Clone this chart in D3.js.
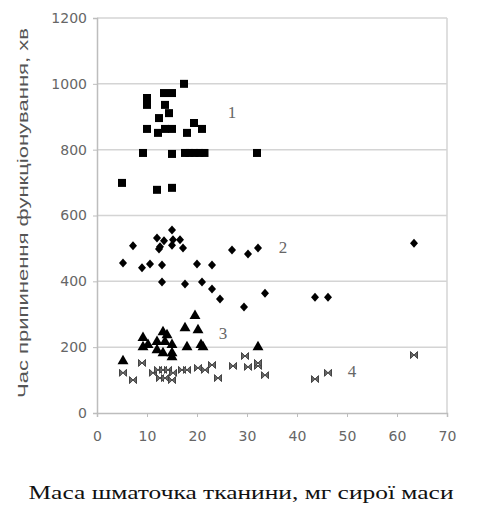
<!DOCTYPE html>
<html>
<head>
<meta charset="utf-8">
<script src="https://cdn.jsdelivr.net/npm/d3@7"></script>
<style>
  body { margin: 0; background: #fff; }
  svg { display: block; }
</style>
</head>
<body>
<div id="chart"></div>
<script>
// series 1: squares
const mass1 = [17.4, 10, 10, 13.4, 15, 13.6, 14.4, 12.4, 10, 12.2, 13.6, 15, 18, 19.4, 21,
               9.2, 15, 17.6, 18.5, 19.5, 20.5, 21.5, 32, 5, 12, 15];
const time1 = [1000, 957, 936, 972, 972, 936, 911, 896, 863, 851, 863, 863, 851, 881, 863,
               790, 787, 790, 790, 790, 790, 790, 790, 699, 678, 684];
// series 2: diamonds
const mass2 = [7.2, 5.2, 9, 10.6, 13, 12, 12.6, 13.4, 15, 15.2, 16.6, 15, 17.2, 12.4,
               13, 17.6, 20, 21, 23, 23, 24.6, 27, 30.2, 32.2, 33.6, 29.4, 63.4, 43.6, 46.2];
const time2 = [508, 456, 441, 453, 450, 532, 505, 523, 556, 526, 526, 510, 501, 498,
               398, 392, 453, 398, 450, 377, 346, 495, 483, 501, 364, 322, 516, 352, 352];
// series 3: triangles
const mass3 = [5.2, 19.6, 17.6, 20.2, 13.2, 14, 9.2, 9.2, 10.2, 12, 12, 13.6, 15, 15, 15,
               13.2, 18, 20.8, 21.2, 32.2];
const time3 = [158, 295, 258, 252, 246, 237, 228, 200, 207, 216, 191, 216, 207, 182, 170,
               182, 200, 207, 200, 200];
// series 4: bowties
const mass4 = [5.2, 7.2, 9, 11.2, 12.2, 13.2, 14.2, 12.6, 13.6, 15, 15.2, 17, 18, 20.2, 21.6,
               23, 24.2, 27.2, 29.6, 30.2, 32.2, 33.6, 32.2, 43.6, 46.2, 63.4];
const time4 = [122, 100, 152, 122, 131, 131, 131, 106, 106, 100, 122, 131, 131, 137, 131,
               146, 106, 143, 173, 140, 143, 115, 152, 103, 122, 176];

const xTicks = [0, 10, 20, 30, 40, 50, 60, 70];
const yTicks = [0, 200, 400, 600, 800, 1000, 1200];
const seriesLabels = ["1", "2", "3", "4"];
const labelPos = [[27, 895], [37.2, 485], [25.2, 226], [51, 108]];

const W = 482, H = 505;
const x = d3.scaleLinear().domain([0, 70]).range([97, 447]);
const y = d3.scaleLinear().domain([0, 1200]).range([413, 18]);

const svg = d3.select("#chart").append("svg")
    .attr("width", W).attr("height", H);

// grid lines
svg.append("g").selectAll("line")
  .data(yTicks.slice(1))
  .enter().append("line")
    .attr("x1", x(0)).attr("x2", x(70))
    .attr("y1", d => y(d)).attr("y2", d => y(d))
    .attr("stroke", "#d4d4d4").attr("stroke-width", 1.5);

// right border
svg.append("line")
  .attr("x1", x(70)).attr("x2", x(70))
  .attr("y1", y(1200)).attr("y2", y(0))
  .attr("stroke", "#d4d4d4").attr("stroke-width", 1.5);

// axes
const yAxis = svg.append("g")
  .attr("transform", "translate(" + x(0) + ",0)")
  .call(d3.axisLeft(y).tickValues(yTicks).tickFormat(d3.format("d")).tickSize(4).tickPadding(6));
const xAxis = svg.append("g")
  .attr("transform", "translate(0," + y(0) + ")")
  .call(d3.axisBottom(x).tickValues(xTicks).tickFormat(d3.format("d")).tickSize(4).tickPadding(14));

[xAxis, yAxis].forEach(a => {
  a.select(".domain").attr("stroke", "#bdbdbd").attr("stroke-width", 1.5);
  a.selectAll(".tick line").attr("stroke", "#bdbdbd");
  a.selectAll(".tick text")
    .attr("fill", "#666")
    .style("font-family", "DejaVu Sans, sans-serif")
    .style("font-size", "14px");
});

// marks
const sq = d3.symbol().type(d3.symbolSquare).size(64);
const dia = "M0,-4.5L4,0L0,4.5L-4,0Z";
const tri = d3.symbol().type(d3.symbolTriangle).size(52);
const bow = "M-3.5,-3.5L3.5,3.5L3.5,-3.5L-3.5,3.5Z";

function plot(xs, ys, path, fill, stroke) {
  svg.append("g").selectAll("path")
    .data(xs.map((v, i) => [v, ys[i]]))
    .enter().append("path")
      .attr("d", path)
      .attr("transform", d => "translate(" + x(d[0]) + "," + y(d[1]) + ")")
      .attr("fill", fill)
      .attr("stroke", stroke)
      .attr("stroke-width", 1);
}
plot(mass1, time1, sq(), "#000", "none");
plot(mass2, time2, dia, "#000", "none");
plot(mass3, time3, tri(), "#000", "none");
plot(mass4, time4, bow, "#666", "#444");

// series labels
svg.append("g").selectAll("text")
  .data(seriesLabels)
  .enter().append("text")
    .attr("x", (d, i) => x(labelPos[i][0]))
    .attr("y", (d, i) => y(labelPos[i][1]))
    .attr("text-anchor", "middle")
    .attr("fill", "#666")
    .style("font-family", "Liberation Serif, Times New Roman, serif")
    .style("font-size", "17px")
    .text(d => d);

// axis titles
svg.append("text")
  .attr("transform", "translate(28,213) rotate(-90)")
  .attr("text-anchor", "middle")
  .attr("fill", "#555")
  .attr("textLength", 370)
  .attr("lengthAdjust", "spacingAndGlyphs")
  .style("font-family", "Liberation Sans, Arial, sans-serif")
  .style("font-size", "14px")
  .text("Час припинення функціонування, хв");

svg.append("text")
  .attr("x", 241).attr("y", 499)
  .attr("text-anchor", "middle")
  .attr("fill", "#111")
  .attr("textLength", 425)
  .attr("lengthAdjust", "spacingAndGlyphs")
  .style("font-family", "Liberation Serif, Times New Roman, serif")
  .style("font-size", "19px")
  .text("Маса шматочка тканини, мг сирої маси");
</script>
</body>
</html>
